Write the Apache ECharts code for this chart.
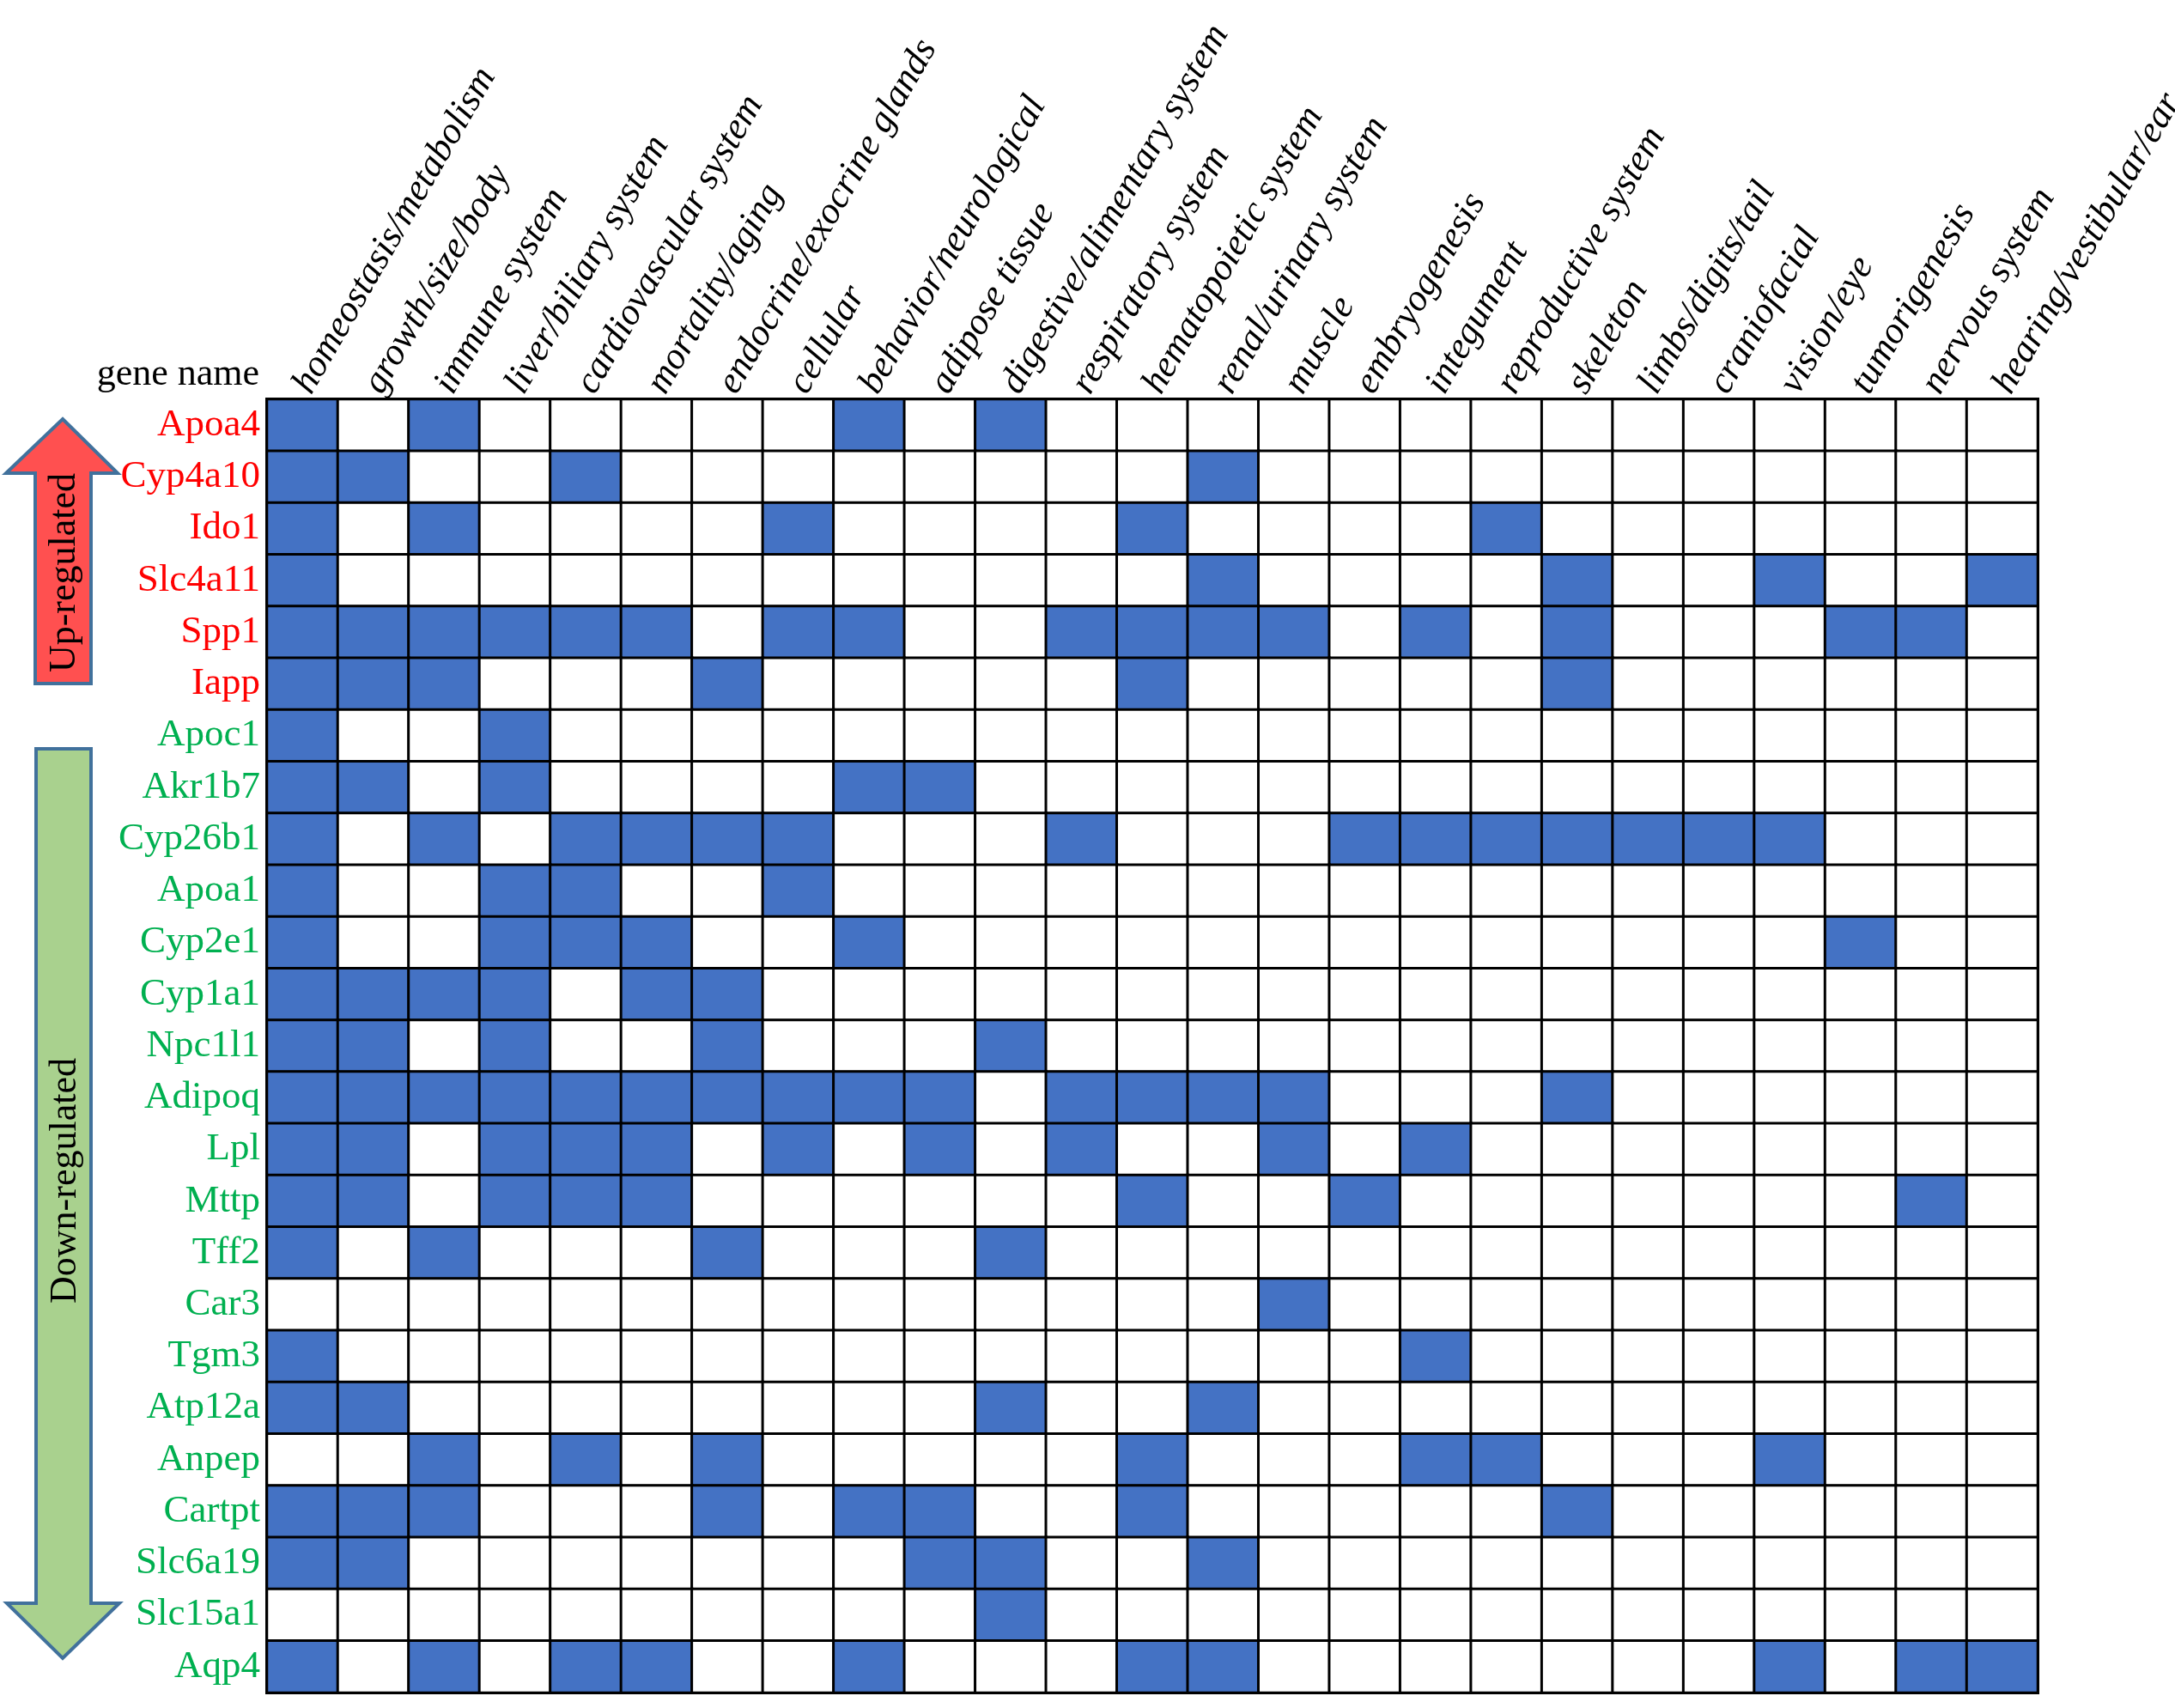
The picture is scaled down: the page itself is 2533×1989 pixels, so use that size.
<!DOCTYPE html>
<html>
<head>
<meta charset="utf-8">
<script src="https://cdn.jsdelivr.net/npm/echarts@6/dist/echarts.min.js"></script>
<style>
html,body{margin:0;padding:0;background:#fff;}
#chart{width:2533px;height:1989px;}
</style>
</head>
<body>
<div id="chart"></div>
<script>
const phenotypes = ["homeostasis/metabolism","growth/size/body","immune system","liver/biliary system","cardiovascular system","mortality/aging","endocrine/exocrine glands","cellular","behavior/neurological","adipose tissue","digestive/alimentary system","respiratory system","hematopoietic system","renal/urinary system","muscle","embryogenesis","integument","reproductive system","skeleton","limbs/digits/tail","craniofacial","vision/eye","tumorigenesis","nervous system","hearing/vestibular/ear"];
const genes = ["Apoa4","Cyp4a10","Ido1","Slc4a11","Spp1","Iapp","Apoc1","Akr1b7","Cyp26b1","Apoa1","Cyp2e1","Cyp1a1","Npc1l1","Adipoq","Lpl","Mttp","Tff2","Car3","Tgm3","Atp12a","Anpep","Cartpt","Slc6a19","Slc15a1","Aqp4"];
const upRegulated = ["Apoa4","Cyp4a10","Ido1","Slc4a11","Spp1","Iapp"];
// 1 = gene annotated with phenotype (columns in phenotypes order)
const annotations = [
 [1,0,1,0,0,0,0,0,1,0,1,0,0,0,0,0,0,0,0,0,0,0,0,0,0],
 [1,1,0,0,1,0,0,0,0,0,0,0,0,1,0,0,0,0,0,0,0,0,0,0,0],
 [1,0,1,0,0,0,0,1,0,0,0,0,1,0,0,0,0,1,0,0,0,0,0,0,0],
 [1,0,0,0,0,0,0,0,0,0,0,0,0,1,0,0,0,0,1,0,0,1,0,0,1],
 [1,1,1,1,1,1,0,1,1,0,0,1,1,1,1,0,1,0,1,0,0,0,1,1,0],
 [1,1,1,0,0,0,1,0,0,0,0,0,1,0,0,0,0,0,1,0,0,0,0,0,0],
 [1,0,0,1,0,0,0,0,0,0,0,0,0,0,0,0,0,0,0,0,0,0,0,0,0],
 [1,1,0,1,0,0,0,0,1,1,0,0,0,0,0,0,0,0,0,0,0,0,0,0,0],
 [1,0,1,0,1,1,1,1,0,0,0,1,0,0,0,1,1,1,1,1,1,1,0,0,0],
 [1,0,0,1,1,0,0,1,0,0,0,0,0,0,0,0,0,0,0,0,0,0,0,0,0],
 [1,0,0,1,1,1,0,0,1,0,0,0,0,0,0,0,0,0,0,0,0,0,1,0,0],
 [1,1,1,1,0,1,1,0,0,0,0,0,0,0,0,0,0,0,0,0,0,0,0,0,0],
 [1,1,0,1,0,0,1,0,0,0,1,0,0,0,0,0,0,0,0,0,0,0,0,0,0],
 [1,1,1,1,1,1,1,1,1,1,0,1,1,1,1,0,0,0,1,0,0,0,0,0,0],
 [1,1,0,1,1,1,0,1,0,1,0,1,0,0,1,0,1,0,0,0,0,0,0,0,0],
 [1,1,0,1,1,1,0,0,0,0,0,0,1,0,0,1,0,0,0,0,0,0,0,1,0],
 [1,0,1,0,0,0,1,0,0,0,1,0,0,0,0,0,0,0,0,0,0,0,0,0,0],
 [0,0,0,0,0,0,0,0,0,0,0,0,0,0,1,0,0,0,0,0,0,0,0,0,0],
 [1,0,0,0,0,0,0,0,0,0,0,0,0,0,0,0,1,0,0,0,0,0,0,0,0],
 [1,1,0,0,0,0,0,0,0,0,1,0,0,1,0,0,0,0,0,0,0,0,0,0,0],
 [0,0,1,0,1,0,1,0,0,0,0,0,1,0,0,0,1,1,0,0,0,1,0,0,0],
 [1,1,1,0,0,0,1,0,1,1,0,0,1,0,0,0,0,0,1,0,0,0,0,0,0],
 [1,1,0,0,0,0,0,0,0,1,1,0,0,1,0,0,0,0,0,0,0,0,0,0,0],
 [0,0,0,0,0,0,0,0,0,0,1,0,0,0,0,0,0,0,0,0,0,0,0,0,0],
 [1,0,1,0,1,1,0,0,1,0,0,0,1,1,0,0,0,0,0,0,0,1,0,1,1]
];

const FONT = "'Liberation Serif','Times New Roman',serif";
const data = [];
annotations.forEach((row, r) => row.forEach((v, c) => data.push([c, r, v])));

const chart = echarts.init(document.getElementById('chart'), null, {renderer: 'canvas'});
chart.setOption({
  backgroundColor: '#fff',
  animation: false,
  grid: {left: 311, top: 465, right: 160, bottom: 18, containLabel: false, outerBoundsMode: 'none',
    show: true, borderColor: '#000', borderWidth: 4, backgroundColor: 'transparent'},
  xAxis: {
    type: 'category', position: 'top', data: phenotypes,
    axisLine: {show: false}, axisTick: {show: false}, splitLine: {show: false},
    axisLabel: {interval: 0, rotate: -60, margin: 10, fontSize: 44, fontStyle: 'italic', fontFamily: FONT, color: '#000', hideOverlap: false}
  },
  yAxis: {
    type: 'category', data: genes, inverse: true,
    axisLine: {show: false}, axisTick: {show: false}, splitLine: {show: false},
    axisLabel: {interval: 0, margin: 8, fontSize: 45, fontFamily: FONT, hideOverlap: false,
      color: (val) => upRegulated.indexOf(val) >= 0 ? '#FF0000' : '#00B050'}
  },
  visualMap: {type: 'piecewise', show: false, dimension: 2,
    pieces: [{value: 0, color: '#FFFFFF'}, {value: 1, color: '#4472C4'}]},
  series: [{
    type: 'heatmap', data: data,
    itemStyle: {borderColor: '#000', borderWidth: 3},
    emphasis: {disabled: true}, label: {show: false}
  }],
  graphic: [
    {type: 'text', x: 302, y: 436, style: {text: 'gene name', font: '44px ' + FONT, fill: '#000', align: 'right', verticalAlign: 'middle'}},
    {type: 'polygon', shape: {points: [[73,488],[137,551],[106,551],[106,796],[41,796],[41,551],[7,551]]},
      style: {fill: '#FF5050', stroke: '#41719C', lineWidth: 4}},
    {type: 'text', x: 75, y: 667, rotation: Math.PI / 2,
      style: {text: 'Up-regulated', font: '44px ' + FONT, fill: '#000', align: 'center', verticalAlign: 'middle'}},
    {type: 'polygon', shape: {points: [[42,872],[106,872],[106,1867],[139,1867],[73,1931],[8,1867],[42,1867]]},
      style: {fill: '#A9D18E', stroke: '#41719C', lineWidth: 4}},
    {type: 'text', x: 76, y: 1375, rotation: Math.PI / 2,
      style: {text: 'Down-regulated', font: '44px ' + FONT, fill: '#000', align: 'center', verticalAlign: 'middle'}}
  ]
});
</script>
</body>
</html>
